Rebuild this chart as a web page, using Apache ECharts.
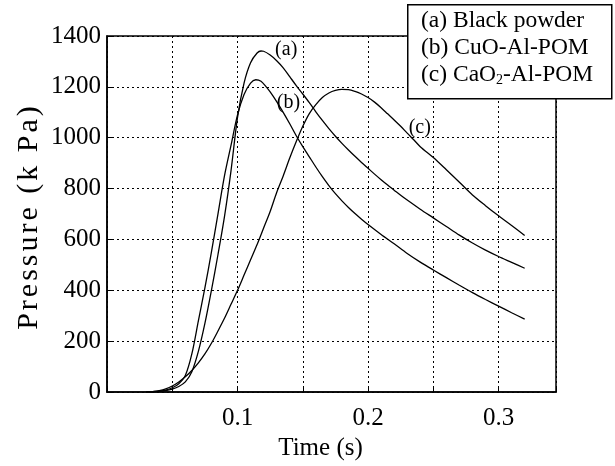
<!DOCTYPE html>
<html>
<head>
<meta charset="UTF-8">
<title>Pressure vs time</title>
<script src="https://cdn.jsdelivr.net/npm/echarts@6/dist/echarts.min.js"></script>
<style>
  html, body { margin: 0; padding: 0; background: #fff; }
  #chart { width: 615px; height: 466px; }
</style>
</head>
<body>
<div id="chart"></div>
<script>
// values, time in s, pressure in kPa
var blackPowder = [
  [0.030, 0], [0.035, 1], [0.040, 3], [0.045, 6], [0.050, 12], [0.055, 22],
  [0.060, 40], [0.065, 80], [0.070, 160], [0.075, 270], [0.080, 400],
  [0.085, 540], [0.090, 690], [0.095, 870], [0.100, 1080], [0.105, 1215],
  [0.110, 1295], [0.115, 1333], [0.118, 1341], [0.120, 1340], [0.125, 1325],
  [0.130, 1303], [0.135, 1275], [0.140, 1240], [0.145, 1205], [0.150, 1172],
  [0.155, 1138], [0.160, 1102], [0.165, 1068], [0.170, 1036], [0.175, 1006],
  [0.180, 978], [0.185, 952], [0.190, 927], [0.195, 903], [0.200, 880],
  [0.205, 857], [0.210, 835], [0.215, 814], [0.220, 794], [0.225, 774],
  [0.230, 755], [0.240, 719], [0.250, 685], [0.260, 651], [0.270, 617],
  [0.280, 586], [0.290, 558], [0.300, 533], [0.310, 510], [0.320, 487]
];
var cuoAlPom = [
  [0.030, 0], [0.035, 2], [0.040, 4], [0.045, 8], [0.050, 17], [0.055, 33],
  [0.060, 65], [0.065, 150], [0.070, 280], [0.075, 410], [0.080, 550],
  [0.085, 700], [0.090, 850], [0.095, 970], [0.100, 1090], [0.105, 1170],
  [0.110, 1215], [0.114, 1228], [0.118, 1222], [0.122, 1200], [0.125, 1180],
  [0.130, 1142], [0.135, 1100], [0.140, 1055], [0.145, 1008], [0.150, 965],
  [0.155, 925], [0.160, 885], [0.165, 847], [0.170, 812], [0.175, 780],
  [0.180, 752], [0.185, 726], [0.190, 702], [0.195, 680], [0.200, 659],
  [0.210, 620], [0.220, 583], [0.230, 545], [0.240, 511], [0.250, 480],
  [0.260, 450], [0.270, 420], [0.280, 391], [0.290, 364], [0.300, 338],
  [0.310, 312], [0.320, 287]
];
var cao2AlPom = [
  [0.030, 0], [0.035, 2], [0.040, 6], [0.045, 13], [0.050, 24], [0.055, 40],
  [0.060, 60], [0.065, 85], [0.070, 115], [0.075, 150], [0.080, 192],
  [0.085, 240], [0.090, 290], [0.095, 345], [0.100, 400], [0.105, 460],
  [0.110, 520], [0.115, 580], [0.120, 645], [0.125, 710], [0.130, 785],
  [0.135, 850], [0.140, 920], [0.145, 985], [0.150, 1045], [0.155, 1095],
  [0.160, 1130], [0.165, 1158], [0.170, 1176], [0.175, 1186], [0.180, 1190],
  [0.185, 1189], [0.190, 1182], [0.195, 1172], [0.200, 1158], [0.205, 1140],
  [0.210, 1118], [0.215, 1094], [0.220, 1070], [0.225, 1045], [0.230, 1018],
  [0.235, 992], [0.240, 965], [0.250, 922], [0.260, 874], [0.270, 825],
  [0.280, 775], [0.290, 733], [0.300, 693], [0.310, 655], [0.320, 616]
];
var seriesNames = ['(a)', '(b)', '(c)'];
var legendLines = ['(a) Black powder', '(b) CuO-Al-POM', '(c) CaO{sub|2}-Al-POM'];
// where the (a) (b) (c) tags sit, in data units
var tagAt = [[0.1373, 1345], [0.139, 1137], [0.2396, 1041]];
var xTickLabels = [0.1, 0.2, 0.3];
var yTitle = 'Pressure (k Pa)';

var font = '"Liberation Serif", "Times New Roman", serif';
var chart = echarts.init(document.getElementById('chart'));

function curve(name, data, tag) {
  return {
    name: name,
    type: 'line',
    data: data,
    smooth: 0.3,
    showSymbol: false,
    lineStyle: { color: '#000', width: 1.3 },
    markPoint: {
      symbol: 'circle',
      symbolSize: 0,
      data: [{ coord: tag }],
      label: {
        show: true,
        formatter: name,
        color: '#000',
        fontFamily: font,
        fontSize: 20,
        position: 'inside'
      }
    }
  };
}

var legendTexts = legendLines.map(function (t, i) {
  return {
    type: 'text',
    left: 421,
    top: 9 + i * 27,
    style: {
      text: t,
      fill: '#000',
      font: '23.5px ' + font,
      rich: {
        sub: { fontSize: 14, fontFamily: font, fill: '#000', padding: [10, 0, 0, 0] }
      }
    },
    z: 101
  };
});

// the y title in the original runs long, so set it letter by letter
function spacedTitle(text, cx, cy, size, gap) {
  var ctx = document.createElement('canvas').getContext('2d');
  ctx.font = size + 'px ' + font;
  var chars = text.split('');
  var widths = chars.map(function (c) { return ctx.measureText(c).width; });
  var total = widths.reduce(function (s, w) { return s + w; }, 0) + gap * (chars.length - 1);
  var pos = cy + total / 2;
  var kids = [];
  chars.forEach(function (c, i) {
    kids.push({
      type: 'text',
      x: cx, y: pos - widths[i] / 2,
      rotation: Math.PI / 2,
      style: {
        text: c, fill: '#000', font: size + 'px ' + font,
        textAlign: 'center', textVerticalAlign: 'middle'
      }
    });
    pos -= widths[i] + gap;
  });
  return { type: 'group', children: kids };
}

chart.setOption({
  animation: false,
  backgroundColor: '#fff',
  grid: {
    left: 107, top: 36, right: 59, bottom: 68,
    show: true, borderColor: '#000', borderWidth: 1.5
  },
  xAxis: {
    type: 'value',
    min: 0, max: 0.344, interval: 0.05,
    name: 'Time (s)',
    nameLocation: 'middle',
    nameGap: 42,
    nameTextStyle: { fontFamily: font, fontSize: 25, color: '#000', padding: [0, 22, 0, 0] },
    axisLine: { show: true, lineStyle: { color: '#000', width: 1.5 } },
    axisTick: { show: true, inside: true, length: 5, lineStyle: { color: '#000' } },
    axisLabel: {
      fontFamily: font, fontSize: 25, color: '#000', margin: 14,
      formatter: function (v) {
        for (var i = 0; i < xTickLabels.length; i++) {
          if (Math.abs(v - xTickLabels[i]) < 1e-6) return String(xTickLabels[i]);
        }
        return '';
      }
    },
    splitLine: { show: true, lineStyle: { color: '#000', width: 1, type: [2, 3] } }
  },
  yAxis: {
    type: 'value',
    min: 0, max: 1400, interval: 200,
    axisLine: { show: true, lineStyle: { color: '#000', width: 1.5 } },
    axisTick: { show: true, inside: true, length: 5, lineStyle: { color: '#000' } },
    axisLabel: {
      fontFamily: font, fontSize: 25, color: '#000', margin: 6,
      formatter: function (v) { return String(v); }
    },
    splitLine: { show: true, lineStyle: { color: '#000', width: 1, type: [2, 3] } }
  },
  series: [
    curve(seriesNames[0], blackPowder, tagAt[0]),
    curve(seriesNames[1], cuoAlPom, tagAt[1]),
    curve(seriesNames[2], cao2AlPom, tagAt[2])
  ],
  graphic: [
    spacedTitle(yTitle, 29, 218, 30, 3),
    {
      type: 'rect',
      left: 407, top: 4,
      shape: { width: 204, height: 94 },
      style: { fill: '#fff', stroke: '#000', lineWidth: 1.5 },
      z: 100
    }
  ].concat(legendTexts)
});
</script>
</body>
</html>
